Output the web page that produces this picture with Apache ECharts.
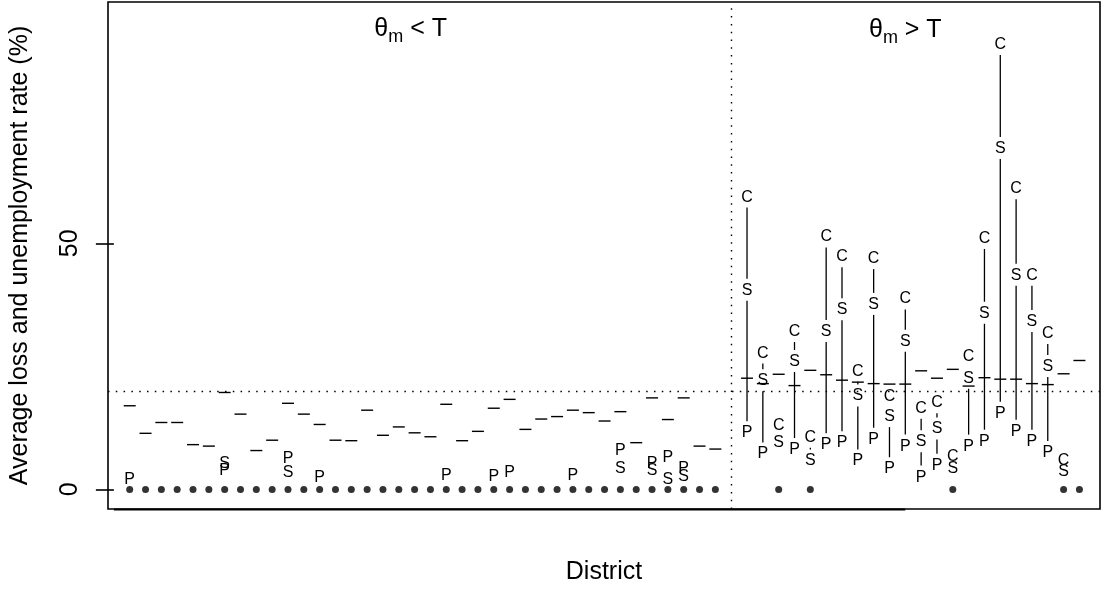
<!DOCTYPE html>
<html><head><meta charset="utf-8">
<script src="https://cdn.jsdelivr.net/npm/echarts@6/dist/echarts.min.js"></script>
<style>html,body{margin:0;padding:0;background:#fff}#c{width:1101px;height:590px}</style>
</head><body><div id="c"></div>
<script>
// ---------------- data ----------------
const districts = Array.from({length: 60}, (_, i) => 'D' + (i + 1));
const lowCount = 38;          // first 38 districts: theta_m < T
const threshold = 20;         // T
const yTicks = [0, 50];
const panelOps = ['<', '>'];
// unemployment rate (dash marks)
const unemp = [17.0,11.4,13.6,13.6,9.1,8.8,19.7,15.3,7.9,10.0,17.5,15.3,13.2,10.0,9.9,16.1,11.0,12.7,11.5,10.7,
  17.3,9.9,11.8,16.5,18.3,12.2,14.3,14.8,16.1,15.6,13.9,15.8,9.5,18.6,14.2,18.6,8.8,8.2,
  22.6,21.5,23.4,21.1,24.2,23.3,22.2,21.8,21.5,21.4,21.4,24.1,22.6,24.4,21.0,22.7,22.4,22.4,21.5,21.3,23.5,26.2];
// average loss, policy P
const lossP = [2.1,0,0,0,0,0,4.0,0,0,0, 6.3,0,2.5,0,0,0,0,0,0,0, 3.0,0,0,2.7,3.5,0,0,0,3.0,0, 0,7.9,0,5.3,6.5,4.4,0,0,
  11.6,7.3,0,8.2,0,9.2,9.6,5.9,10.3,4.3,8.9,2.6,5.0,0,8.9,9.9,15.6,11.9,9.9,7.6,0,0];
// average loss, policy S
const lossS = [0,0,0,0,0,0,5.3,0,0,0, 3.5,0,0,0,0,0,0,0,0,0, 0,0,0,0,0,0,0,0,0,0, 0,4.4,0,3.9,2.1,2.8,0,0,
  40.6,22.2,9.6,26.1,5.9,32.2,36.6,19.1,37.7,14.9,30.2,9.8,12.4,4.3,22.7,35.9,69.4,43.6,34.2,25.1,3.8,0];
// average loss, policy C
const lossC = [0,0,0,0,0,0,0,0,0,0, 0,0,0,0,0,0,0,0,0,0, 0,0,0,0,0,0,0,0,0,0, 0,0,0,0,0,0,0,0,
  59.5,27.8,13.0,32.2,10.7,51.4,47.4,24.1,47.0,19.0,38.8,16.6,17.7,6.7,27.1,51.1,90.5,61.2,43.6,31.8,5.9,0];

// ---------------- layout helpers ----------------
const FONT = "'Liberation Sans', Arial, Helvetica, sans-serif";
const xOf = i => i < lowCount ? i + 1 : i + 2;
const sepX = lowCount + 1;
const GAP = 11;

const chart = echarts.init(document.getElementById('c'), null, {renderer: 'canvas'});

function letterSeries(letter, arr) {
  const data = [];
  arr.forEach((v, i) => { if (v > 0) data.push([xOf(i), v]); });
  return {
    type: 'custom', name: letter, clip: false, silent: true, z: 5,
    encode: {x: 0, y: 1},
    data,
    renderItem: (params, api) => {
      const c = api.coord([api.value(0), api.value(1)]);
      return {type: 'text', x: c[0], y: c[1] + 0.5,
        style: {text: letter, fontSize: 16, fontFamily: FONT, fill: '#000', align: 'center', verticalAlign: 'middle'}};
    }
  };
}

const option = {
  animation: false,
  backgroundColor: '#fff',
  textStyle: {fontFamily: FONT},
  grid: {left: 108, right: 1, top: 2, bottom: 78, show: true, borderColor: '#000', borderWidth: 1.6, backgroundColor: 'transparent'},
  xAxis: {
    type: 'value', min: -0.371, max: 62.30,
    axisLine: {show: false}, axisTick: {show: false}, axisLabel: {show: false}, splitLine: {show: false},
    name: 'District', nameLocation: 'middle', nameGap: 51,
    nameTextStyle: {fontSize: 25, color: '#000', fontFamily: FONT}
  },
  yAxis: {
    type: 'value', min: -3.98, max: 99.05,
    axisLine: {show: false}, splitLine: {show: false},
    axisTick: {show: true, length: 18, customValues: yTicks, lineStyle: {color: '#000', width: 1.6}},
    axisLabel: {customValues: yTicks, rotate: 90, margin: 25, fontSize: 25, color: '#000', fontFamily: FONT},
    name: 'Average loss and unemployment rate (%)', nameLocation: 'middle', nameGap: 75,
    nameTextStyle: {fontSize: 25, color: '#000', fontFamily: FONT}
  },
  series: [
    { // reference lines + zero dots
      type: 'scatter', name: 'zero', symbol: 'circle', symbolSize: 7,
      itemStyle: {color: '#000'}, silent: true, z: 4,
      data: districts.map((d, i) => (lossP[i] === 0 || lossS[i] === 0 || lossC[i] === 0) ? [xOf(i), 0] : null).filter(Boolean),
      markLine: {
        silent: true, symbol: ['none', 'none'], label: {show: false},
        lineStyle: {type: [1.5, 6.3], color: '#000', width: 1.4},
        data: [{yAxis: threshold}, {xAxis: sepX}]
      }
    },
    { // unemployment dashes
      type: 'custom', name: 'unemp', clip: false, silent: true, z: 3,
      encode: {x: 0, y: 1},
      data: unemp.map((v, i) => [xOf(i), v]),
      renderItem: (params, api) => {
        const c = api.coord([api.value(0), api.value(1)]);
        return {type: 'line', shape: {x1: c[0] - 6, y1: c[1], x2: c[0] + 6, y2: c[1]},
          style: {stroke: '#000', lineWidth: 1.4}};
      }
    },
    { // vertical connectors between letters
      type: 'custom', name: 'links', clip: false, silent: true, z: 3,
      encode: {x: 0, y: 1},
      data: districts.map((d, i) => [xOf(i), 0]),
      renderItem: (params, api) => {
        const i = params.dataIndex;
        const vals = [lossC[i], lossS[i], lossP[i]].filter(v => v > 0).sort((a, b) => b - a);
        const children = [];
        for (let k = 0; k < vals.length - 1; k++) {
          const a = api.coord([xOf(i), vals[k]]);
          const b = api.coord([xOf(i), vals[k + 1]]);
          const y1 = a[1] + GAP, y2 = b[1] - GAP;
          if (y2 > y1) children.push({type: 'line', shape: {x1: a[0], y1: y1, x2: a[0], y2: y2},
            style: {stroke: '#000', lineWidth: 1.3}});
        }
        return {type: 'group', children};
      }
    },
    letterSeries('P', lossP),
    letterSeries('S', lossS),
    letterSeries('C', lossC),
    { // bottom axis line (ticks 0..50)
      type: 'custom', name: 'xaxisline', clip: false, silent: true, z: 6,
      encode: {x: 0, y: 1},
      data: [[0, 50]],
      renderItem: (params, api) => {
        const cs = params.coordSys;
        const a = api.coord([api.value(0), 0]);
        const b = api.coord([api.value(1), 0]);
        const y = cs.y + cs.height + 0.5;
        return {type: 'line', shape: {x1: a[0], y1: y, x2: b[0], y2: y}, style: {stroke: '#000', lineWidth: 2.2}};
      }
    },
    { // panel titles
      type: 'custom', name: 'panels', clip: false, silent: true, z: 6,
      encode: {x: 0, y: 1},
      data: [[18.75, 93.6], [50.0, 93.3]],
      renderItem: (params, api) => {
        const c = api.coord([api.value(0), api.value(1)]);
        const op = panelOps[params.dataIndex];
        return {type: 'text', x: c[0], y: c[1],
          style: {text: '{t|θ}{s|m}{t| ' + op + ' T}', align: 'center', verticalAlign: 'middle', fill: '#000',
            rich: {
              t: {fontSize: 25, fontFamily: FONT, fill: '#000', lineHeight: 34, verticalAlign: 'middle'},
              s: {fontSize: 18, fontFamily: FONT, fill: '#000', lineHeight: 34, verticalAlign: 'bottom'}
            }}};
      }
    }
  ]
};
chart.setOption(option);
</script></body></html>
